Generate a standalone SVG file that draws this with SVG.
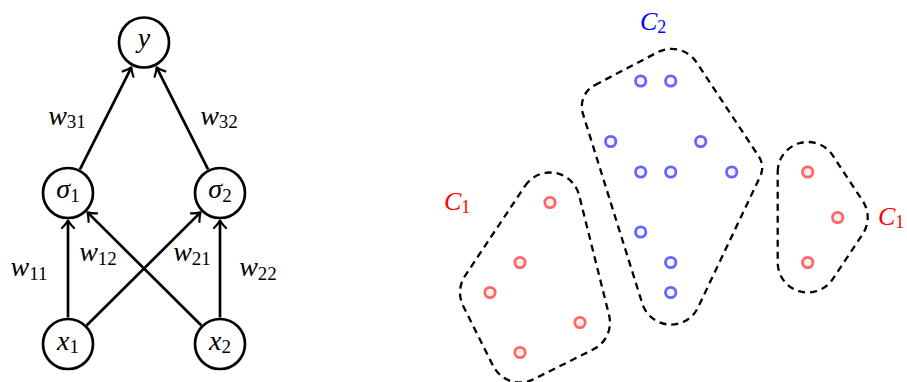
<svg xmlns="http://www.w3.org/2000/svg" width="907" height="382" viewBox="0 0 907 382">
<defs>
<marker id="arr" markerUnits="userSpaceOnUse" markerWidth="20" markerHeight="20" refX="0" refY="0" viewBox="-10 -10 20 20" orient="auto" overflow="visible">
<path d="M -7.5,-6 Q -2.5,-1.3 0,0 Q -2.5,1.3 -7.5,6" fill="none" stroke="#000" stroke-width="2.2" stroke-linecap="round" stroke-linejoin="round"/>
</marker>
</defs>
<style>
.node circle { fill: #fff; stroke: #000; stroke-width: 2.7; }
.m { font-family: "Liberation Serif", "DejaVu Serif", serif; font-style: italic; font-size: 28px; fill: #000; }
.sub { font-style: normal; font-size: 19px; }
.edge { stroke: #000; stroke-width: 2.7; fill: none; marker-end: url(#arr); }
.hull { fill: none; stroke: #000; stroke-width: 2.3; stroke-dasharray: 7 5; }
.rp { fill: #fdeeee; stroke: #ff6666; stroke-width: 2.8; }
.bp { fill: #f6f6ff; stroke: #6666ff; stroke-width: 2.8; }
.lab { font-family: "Liberation Serif", "DejaVu Serif", serif; font-style: italic; font-size: 26px; }
.lsub { font-style: normal; font-size: 18px; }
</style>

<g id="connectors">
<line class="edge" x1="79.95" y1="169.34" x2="131.4" y2="67.4"/>
<line class="edge" x1="208.05" y1="169.34" x2="156.6" y2="67.4"/>
<line class="edge" x1="68" y1="317.5" x2="68" y2="220.5"/>
<line class="edge" x1="220" y1="317.5" x2="220" y2="220.5"/>
<line class="edge" x1="86.8" y1="325.32" x2="200.5" y2="212.4"/>
<line class="edge" x1="201.2" y1="325.32" x2="87.5" y2="212.4"/>
</g>

<g id="edge-labels" class="m">
<text x="67" y="124.5" text-anchor="middle">w<tspan class="sub" dy="3.5">31</tspan></text>
<text x="219" y="124.5" text-anchor="middle">w<tspan class="sub" dy="3.5">32</tspan></text>
<text x="29" y="276" text-anchor="middle">w<tspan class="sub" dy="3.5">11</tspan></text>
<text x="98" y="261" text-anchor="middle">w<tspan class="sub" dy="3.5">12</tspan></text>
<text x="192" y="261" text-anchor="middle">w<tspan class="sub" dy="3.5">21</tspan></text>
<text x="258" y="276" text-anchor="middle">w<tspan class="sub" dy="3.5">22</tspan></text>
</g>

<g id="node-y" class="node">
<circle cx="144" cy="42.5" r="25"/>
<text class="m" x="144" y="47" text-anchor="middle">y</text>
</g>
<g id="node-sigma1" class="node">
<circle cx="68" cy="193" r="25"/>
<text class="m" x="68" y="198" text-anchor="middle">σ<tspan class="sub" dy="3.5">1</tspan></text>
</g>
<g id="node-sigma2" class="node">
<circle cx="220" cy="193" r="25"/>
<text class="m" x="220" y="198" text-anchor="middle">σ<tspan class="sub" dy="3.5">2</tspan></text>
</g>
<g id="node-x1" class="node">
<circle cx="68" cy="344" r="25"/>
<text class="m" x="68" y="349.5" text-anchor="middle">x<tspan class="sub" dy="3.5">1</tspan></text>
</g>
<g id="node-x2" class="node">
<circle cx="220" cy="344" r="25"/>
<text class="m" x="220" y="349.5" text-anchor="middle">x<tspan class="sub" dy="3.5">2</tspan></text>
</g>

<g id="cluster-c1-left">
<path class="hull" d="M 525.04,185.86 A 30 30 0 0 1 579.10,195.22 L 609.10,315.22 A 30 30 0 0 1 593.42,349.33 L 533.42,379.33 A 30 30 0 0 1 493.17,365.92 L 463.17,305.92 A 30 30 0 0 1 465.04,275.86 Z"/>
<circle class="rp" cx="550" cy="202.5" r="5.2"/>
<circle class="rp" cx="520" cy="262.5" r="5.2"/>
<circle class="rp" cx="490" cy="292.5" r="5.2"/>
<circle class="rp" cx="580" cy="322.5" r="5.2"/>
<circle class="rp" cx="520" cy="352.5" r="5.2"/>
<text class="lab" x="444" y="210" fill="#ff0000">C<tspan class="lsub" dy="3">1</tspan></text>
</g>

<g id="cluster-c2">
<path class="hull" d="M 594.7,85.2 L 657.5,52.3 A 30 30 0 0 1 696.5,62.3 L 758.9,156.6 A 20 20 0 0 1 760.3,176.2 L 698.0,307.5 A 30 30 0 0 1 642.3,303.6 L 582.9,113.7 A 24 24 0 0 1 594.7,85.2 Z"/>
<circle class="bp" cx="640.7" cy="81" r="5.2"/>
<circle class="bp" cx="670.7" cy="81" r="5.2"/>
<circle class="bp" cx="610.7" cy="141.5" r="5.2"/>
<circle class="bp" cx="700.7" cy="141.5" r="5.2"/>
<circle class="bp" cx="640.7" cy="172" r="5.2"/>
<circle class="bp" cx="670.7" cy="172" r="5.2"/>
<circle class="bp" cx="731.7" cy="172" r="5.2"/>
<circle class="bp" cx="640.7" cy="232" r="5.2"/>
<circle class="bp" cx="670.7" cy="262.5" r="5.2"/>
<circle class="bp" cx="670.7" cy="292.5" r="5.2"/>
<text class="lab" x="640" y="30" fill="#0000ff">C<tspan class="lsub" dy="3">2</tspan></text>
</g>

<g id="cluster-c1-right">
<path class="hull" d="M 777.7,172 A 30 30 0 0 1 832.75,155.48 L 862.75,200.98 A 30 30 0 0 1 862.66,234.14 L 832.66,279.14 A 30 30 0 0 1 777.7,262.5 Z"/>
<circle class="rp" cx="807.7" cy="172" r="5.2"/>
<circle class="rp" cx="837.7" cy="217.5" r="5.2"/>
<circle class="rp" cx="807.7" cy="262.5" r="5.2"/>
<text class="lab" x="878" y="225" fill="#ff0000">C<tspan class="lsub" dy="3">1</tspan></text>
</g>
</svg>
